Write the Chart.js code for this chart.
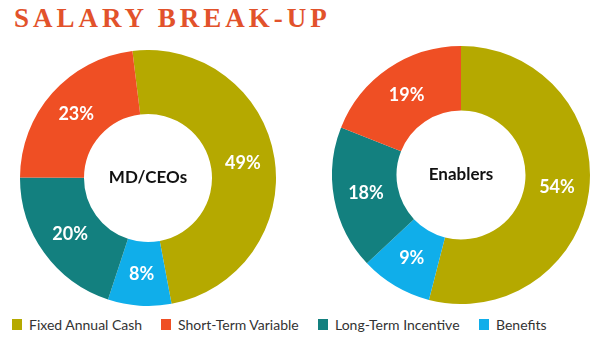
<!DOCTYPE html>
<html>
<head>
<meta charset="utf-8">
<script src="https://cdn.jsdelivr.net/npm/chart.js@4"></script>
<style>
  html, body { margin: 0; padding: 0; background: #fff; }
  body { width: 600px; height: 340px; position: relative; overflow: hidden; font-family: Lato, sans-serif; }
  #title { position: absolute; left: 14px; top: 3px; margin: 0; font-family: "Liberation Serif", serif; font-weight: bold;
           font-size: 27px; letter-spacing: 4px; color: #e2522b; }
  .pie { position: absolute; }
  #pie1 { left: 20px; top: 50px; width: 256px; height: 256px; }
  #pie2 { left: 332px; top: 46px; width: 258px; height: 258px; }
  #legend { position: absolute; left: 12px; top: 316px; width: 590px; white-space: nowrap; font-size: 14px; color: #333; }
  #legend span.item { position: absolute; top: 0; display: flex; align-items: center; }
  #legend i { display: inline-block; width: 10px; height: 11px; margin-right: 7px; }
</style>
</head>
<body>
<h1 id="title">SALARY BREAK-UP</h1>
<div class="pie" id="pie1"><canvas id="c1"></canvas></div>
<div class="pie" id="pie2"><canvas id="c2"></canvas></div>
<div id="legend"></div>
<script>
const categories = ['Fixed Annual Cash', 'Benefits', 'Long-Term Incentive', 'Short-Term Variable'];
const legendOrder = ['Fixed Annual Cash', 'Short-Term Variable', 'Long-Term Incentive', 'Benefits'];
const colors = ['#b5a900', '#10aeea', '#13807f', '#ef4f24'];
const ceoValues = [49, 8, 20, 23];
const enablerValues = [54, 9, 18, 19];

// white % labels in each slice + group name in the hole
const donutLabels = {
  id: 'donutLabels',
  afterDatasetsDraw(chart, args, opts) {
    const ctx = chart.ctx;
    const meta = chart.getDatasetMeta(0);
    const data = chart.data.datasets[0].data;
    ctx.save();
    ctx.textAlign = 'center';
    ctx.textBaseline = 'middle';
    ctx.fillStyle = '#fff';
    ctx.font = 'bold 18px Lato, sans-serif';
    meta.data.forEach((arc, i) => {
      const p = arc.tooltipPosition();
      ctx.fillText(data[i] + '%', p.x, p.y);
    });
    const c = meta.data[0];
    ctx.fillStyle = '#111';
    ctx.font = 'bold 17px Lato, sans-serif';
    ctx.fillText(opts.center, c.x, c.y);
    ctx.restore();
  }
};

function makeDonut(id, values, name, rotation) {
  return new Chart(document.getElementById(id), {
    type: 'doughnut',
    data: {
      labels: categories,
      datasets: [{ data: values, backgroundColor: colors, borderWidth: 0 }]
    },
    options: {
      responsive: true,
      maintainAspectRatio: false,
      animation: false,
      cutout: '50%',
      rotation: rotation,
      layout: { padding: 0 },
      plugins: {
        legend: { display: false },
        tooltip: { enabled: false },
        donutLabels: { center: name }
      }
    },
    plugins: [donutLabels]
  });
}

makeDonut('c1', ceoValues, 'MD/CEOs', -7);
makeDonut('c2', enablerValues, 'Enablers', 0);

// legend items laid out left to right, spaced like the original
const legend = document.getElementById('legend');
let x = 0;
legendOrder.forEach(name => {
  const item = document.createElement('span');
  item.className = 'item';
  item.style.left = x + 'px';
  const sw = document.createElement('i');
  sw.style.background = colors[categories.indexOf(name)];
  item.appendChild(sw);
  item.appendChild(document.createTextNode(name));
  legend.appendChild(item);
  x += item.offsetWidth + 19;
});
</script>
</body>
</html>
